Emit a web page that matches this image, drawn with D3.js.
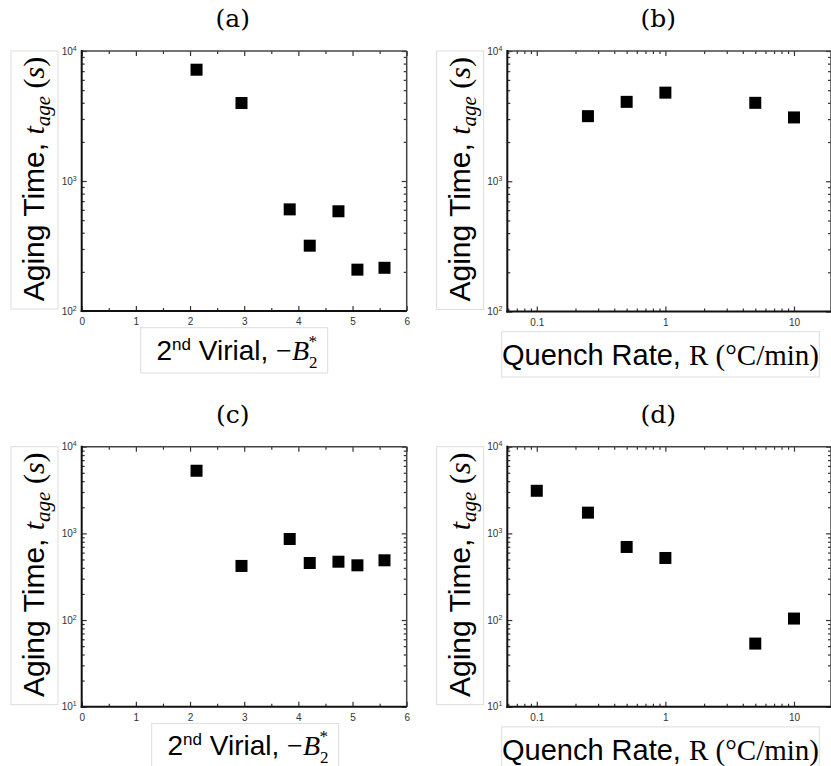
<!DOCTYPE html>
<html>
<head>
<meta charset="utf-8">
<script src="https://cdn.jsdelivr.net/npm/d3@7"></script>
<style>
  body { margin: 0; background: #fff; }
  svg { display: block; }
</style>
</head>
<body>
<div id="chart"></div>
<script>
// values
const virialB2 = [2.12, 2.95, 3.84, 4.21, 4.74, 5.09, 5.59];
const ageTimeA = [7180, 3980, 605, 318, 585, 208, 215];
const ageTimeC = [5280, 421, 861, 455, 471, 428, 489];

const quenchRateB = [0.25, 0.5, 1, 5, 10];
const ageTimeB = [3160, 4070, 4790, 4000, 3090];

const quenchRateD = [0.1, 0.25, 0.5, 1, 5, 10];
const ageTimeD = [3100, 1734, 697, 520, 53.5, 104];

const virialTicks = [0, 1, 2, 3, 4, 5, 6];
const quenchTicks = [0.1, 1, 10];
const quenchTickLabels = ['0.1', '1', '10'];

const SANS = 'Liberation Sans, Arial, sans-serif';
const SERIF = 'DejaVu Serif, serif';
const MATH = 'Liberation Serif, serif';

const svg = d3.select('#chart')
    .append('svg')
    .attr('width', 831)
    .attr('height', 766);

const panels = [
  { title: '(a)', x: virialB2, y: ageTimeA, kind: 'virial', ymin: 100,
    left: 81.7, right: 406.7, top: 51, bottom: 311 },
  { title: '(b)', x: quenchRateB, y: ageTimeB, kind: 'quench', ymin: 100,
    left: 507.3, right: 831, top: 51, bottom: 311.5 },
  { title: '(c)', x: virialB2, y: ageTimeC, kind: 'virial', ymin: 10,
    left: 81.7, right: 406.7, top: 446.7, bottom: 706.7 },
  { title: '(d)', x: quenchRateD, y: ageTimeD, kind: 'quench', ymin: 10,
    left: 507.3, right: 831, top: 446.7, bottom: 706.7 }
];

function logMinors(lo, hi) {
  let out = [];
  for (let d = 0.001; d <= 1e5; d *= 10) {
    for (let m = 2; m <= 9; m++) {
      let v = +(m * d).toPrecision(3);
      if (v > lo && v < hi) out.push(v);
    }
  }
  return out;
}

function drawPanel(p) {
  const g = svg.append('g');

  let x;
  let xMajor, xMinor;
  if (p.kind == 'virial') {
    x = d3.scaleLinear().domain([0, 6]).range([p.left, p.right]);
    xMajor = virialTicks;
    xMinor = d3.range(0.5, 6, 1);
  } else {
    x = d3.scaleLog().domain([0.059, 19.4]).range([p.left, p.right]);
    xMajor = quenchTicks;
    xMinor = logMinors(0.059, 19.4);
  }
  const y = d3.scaleLog().domain([p.ymin, 10000]).range([p.bottom, p.top]);
  const yMajor = d3.range(Math.log10(p.ymin), 5).map(e => Math.pow(10, e));
  const yMinor = logMinors(p.ymin, 10000);

  // tick marks, all pointing inward
  const tickStyle = sel => {
    sel.select('.domain').remove();
    sel.selectAll('line').attr('stroke', '#333').attr('stroke-width', 1.2);
  };

  // bottom
  g.append('g')
    .attr('transform', `translate(0,${p.bottom})`)
    .call(d3.axisBottom(x).tickValues(xMajor).tickSizeInner(-5).tickSizeOuter(0)
      .tickPadding(7)
      .tickFormat((d, i) => p.kind == 'virial' ? d : quenchTickLabels[i]))
    .call(tickStyle)
    .call(s => s.selectAll('text').attr('font-family', SANS).attr('font-size', 10).attr('fill', '#333'));
  g.append('g')
    .attr('transform', `translate(0,${p.bottom})`)
    .call(d3.axisBottom(x).tickValues(xMinor).tickSizeInner(-3).tickSizeOuter(0).tickFormat(''))
    .call(tickStyle);

  // top
  g.append('g')
    .attr('transform', `translate(0,${p.top})`)
    .call(d3.axisTop(x).tickValues(xMajor).tickSizeInner(-5).tickSizeOuter(0).tickFormat(''))
    .call(tickStyle);
  g.append('g')
    .attr('transform', `translate(0,${p.top})`)
    .call(d3.axisTop(x).tickValues(xMinor).tickSizeInner(-3).tickSizeOuter(0).tickFormat(''))
    .call(tickStyle);

  // left
  g.append('g')
    .attr('transform', `translate(${p.left},0)`)
    .call(d3.axisLeft(y).tickValues(yMajor).tickSizeInner(-5).tickSizeOuter(0).tickPadding(5)
      .tickFormat(''))
    .call(tickStyle)
    .call(s => {
      s.selectAll('text')
        .attr('font-family', SANS).attr('font-size', 10).attr('fill', '#333')
        .each(function(d) {
          const t = d3.select(this);
          t.append('tspan').text('10');
          t.append('tspan').attr('font-size', 7).attr('dy', -4).text(Math.round(Math.log10(d)));
        });
    });
  g.append('g')
    .attr('transform', `translate(${p.left},0)`)
    .call(d3.axisLeft(y).tickValues(yMinor).tickSizeInner(-3).tickSizeOuter(0).tickFormat(''))
    .call(tickStyle);

  // right
  g.append('g')
    .attr('transform', `translate(${p.right},0)`)
    .call(d3.axisRight(y).tickValues(yMajor).tickSizeInner(-5).tickSizeOuter(0).tickFormat(''))
    .call(tickStyle);
  g.append('g')
    .attr('transform', `translate(${p.right},0)`)
    .call(d3.axisRight(y).tickValues(yMinor).tickSizeInner(-3).tickSizeOuter(0).tickFormat(''))
    .call(tickStyle);

  // frame
  g.append('line').attr('x1', p.left).attr('x2', p.right).attr('y1', p.top).attr('y2', p.top)
    .attr('stroke', '#444').attr('stroke-width', 1.5);
  g.append('line').attr('x1', p.right).attr('x2', p.right).attr('y1', p.top).attr('y2', p.bottom)
    .attr('stroke', '#444').attr('stroke-width', 1.5);
  g.append('line').attr('x1', p.left).attr('x2', p.left).attr('y1', p.top - 1).attr('y2', p.bottom + 1)
    .attr('stroke', '#111').attr('stroke-width', 2);
  g.append('line').attr('x1', p.left - 1).attr('x2', p.right).attr('y1', p.bottom).attr('y2', p.bottom)
    .attr('stroke', '#111').attr('stroke-width', 2);

  // markers
  const pts = p.x.map((v, i) => ({ x: v, y: p.y[i] }));
  g.selectAll('rect.pt')
    .data(pts)
    .enter()
    .append('rect')
    .attr('class', 'pt')
    .attr('x', d => x(d.x) - 6)
    .attr('y', d => y(d.y) - 6)
    .attr('width', 12)
    .attr('height', 12)
    .attr('fill', '#000');

  // title
  g.append('text')
    .attr('x', p.left + 151)
    .attr('y', p.top - 24)
    .attr('text-anchor', 'middle')
    .attr('font-family', SERIF)
    .attr('font-size', 25)
    .text(p.title);

  // y label box
  const bx = p.left - 70.7;
  g.append('rect')
    .attr('x', bx).attr('y', p.top)
    .attr('width', 47).attr('height', p.bottom - p.top - 2)
    .attr('fill', '#fff').attr('stroke', '#ddd').attr('stroke-width', 1);
  const yl = g.append('text')
    .attr('transform', `translate(${bx + 33},${(p.top + p.bottom) / 2 - 2}) rotate(-90)`)
    .attr('text-anchor', 'middle')
    .attr('font-size', 30)
    .attr('fill', '#000');
  yl.append('tspan').attr('font-family', SANS).text('Aging Time, ');
  yl.append('tspan').attr('font-family', MATH).attr('font-style', 'italic').text('t');
  yl.append('tspan').attr('font-family', MATH).attr('font-style', 'italic').attr('font-size', 21).attr('dy', 6).text('age');
  yl.append('tspan').attr('font-family', MATH).attr('dy', -6).text(' (');
  yl.append('tspan').attr('font-family', MATH).attr('font-style', 'italic').text('s');
  yl.append('tspan').attr('font-family', MATH).text(')');

  // x label box + text
  if (p.kind == 'virial') {
    const shift = p.title == '(c)' ? 11 : 0;
    g.append('rect')
      .attr('x', 140.7 + shift).attr('y', p.bottom + 16.7)
      .attr('width', 187).attr('height', 45.3)
      .attr('fill', '#fff').attr('stroke', '#ddd');
    const xl = g.append('text')
      .attr('x', 237 + shift).attr('y', p.bottom + 48.5)
      .attr('text-anchor', 'middle')
      .attr('font-size', 28)
      .attr('fill', '#000');
    xl.append('tspan').attr('font-family', SANS).text('2');
    xl.append('tspan').attr('font-family', SANS).attr('font-size', 17).attr('dy', -10).text('nd');
    xl.append('tspan').attr('font-family', SANS).attr('dy', 10).text(' Virial, ');
    xl.append('tspan').attr('font-family', MATH).text('\u2212');
    xl.append('tspan').attr('font-family', MATH).attr('font-style', 'italic').text('B');
    xl.append('tspan').attr('font-family', MATH).attr('font-size', 17).attr('dy', 8).text('2');
    xl.append('tspan').attr('font-family', MATH).attr('font-size', 17).attr('dx', -9).attr('dy', -21).text('*');
  } else {
    g.append('rect')
      .attr('x', 501.7).attr('y', p.bottom + 20.2)
      .attr('width', 317.6).attr('height', 45.3)
      .attr('fill', '#fff').attr('stroke', '#ddd');
    const xl = g.append('text')
      .attr('x', 660.5).attr('y', p.bottom + 53.5)
      .attr('text-anchor', 'middle')
      .attr('font-size', 29)
      .attr('fill', '#000');
    xl.append('tspan').attr('font-family', SANS).text('Quench Rate, ');
    xl.append('tspan').attr('font-family', MATH).text('R (\u00B0C/min)');
  }
}

panels.forEach(drawPanel);
</script>
</body>
</html>
